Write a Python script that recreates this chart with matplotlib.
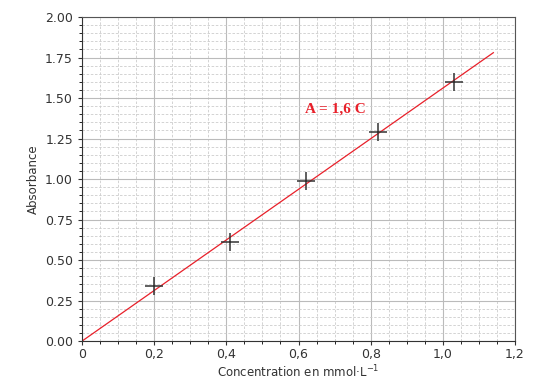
import matplotlib
matplotlib.use("Agg")
import matplotlib.pyplot as plt
from matplotlib.ticker import MultipleLocator

conc = [0.20, 0.41, 0.62, 0.82, 1.03]
absorb = [0.34, 0.61, 0.99, 1.29, 1.60]
fit_x = [0.0, 1.14]
fit_y = [0.0, 1.78]
xticks = [0, 0.2, 0.4, 0.6, 0.8, 1.0, 1.2]
xticklabels = ["0", "0,2", "0,4", "0,6", "0,8", "1,0", "1,2"]
yticks = [0.0, 0.25, 0.5, 0.75, 1.0, 1.25, 1.5, 1.75, 2.0]

fig = plt.figure(figsize=(5.34, 3.79), dpi=100)
ax = fig.add_axes([0.1536, 0.1, 0.8108, 0.855])

ax.set_xlim(0, 1.2)
ax.set_ylim(0, 2.0)
ax.set_xticks(xticks)
ax.set_xticklabels(xticklabels)
ax.set_yticks(yticks)
ax.set_yticklabels([f"{v:.2f}" for v in yticks])
ax.xaxis.set_minor_locator(MultipleLocator(0.05))
ax.yaxis.set_minor_locator(MultipleLocator(0.05))

ax.grid(which="major", color="#bbbbbb", linewidth=0.8, linestyle="-")
ax.grid(which="minor", color="#cccccc", linewidth=0.6, linestyle=(0, (3, 2)))
ax.set_axisbelow(True)

ax.plot(fit_x, fit_y, color="#e8202a", linewidth=0.9)
ax.plot(conc, absorb, linestyle="none", marker="+", markersize=13,
        markeredgewidth=1.1, color="#333333")

ax.text(0.618, 1.41, "A = 1,6 C", color="#e8202a", fontsize=11,
        fontweight="bold", family="Liberation Serif")

ax.set_xlabel("Concentration en mmol·L$^{-1}$", fontsize=8.5, color="#333333")
ax.xaxis.set_label_coords(0.5, -0.07)
ax.set_ylabel("Absorbance", fontsize=8.5, color="#333333", labelpad=4)
ax.tick_params(axis="both", labelsize=9, colors="#333333", length=3)
ax.tick_params(axis="x", pad=2)
ax.tick_params(which="minor", length=2)
for s in ["left", "bottom"]:
    ax.spines[s].set_color("#333333")
for s in ["top", "right"]:
    ax.spines[s].set_color("#555555")

fig.savefig("out.png", dpi=100)
